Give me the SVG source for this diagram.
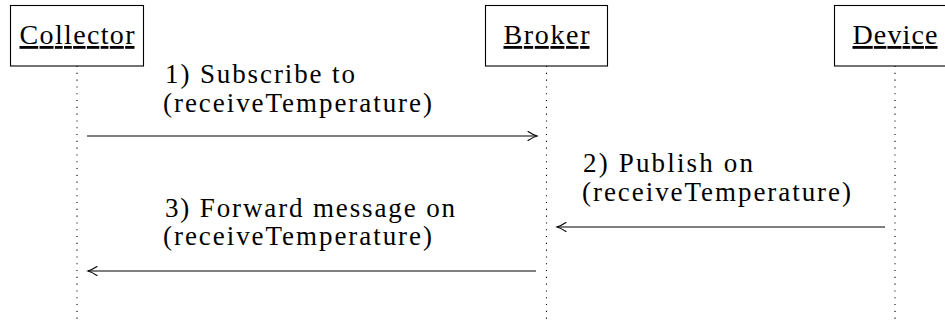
<svg xmlns="http://www.w3.org/2000/svg" width="945" height="320" viewBox="0 0 945 320">
  <style>
    .box { fill: #ffffff; stroke: #000000; stroke-width: 1.1; }
    .name { font-family: 'Liberation Serif', 'DejaVu Serif', serif; font-size: 28px; fill: #000000; text-anchor: middle; text-decoration: underline; }
    .life { stroke: #000000; stroke-width: 1.1; stroke-dasharray: 1.1 5.7; fill: none; }
    .msg { stroke: #000000; stroke-width: 1.1; fill: none; marker-end: url(#to); }
    .lbl { font-family: 'Liberation Serif', 'DejaVu Serif', serif; font-size: 27px; fill: #000000; }
  </style>
  <defs>
    <marker id="to" markerUnits="userSpaceOnUse" markerWidth="14" markerHeight="14" viewBox="-12 -7 14 14" refX="0" refY="0" orient="auto">
      <path d="M -9 -4.5 Q -3.5 -1 0 0 Q -3.5 1 -9 4.5" fill="none" stroke="#000000" stroke-width="1.1" stroke-linecap="round"/>
    </marker>
  </defs>
  <rect width="945" height="320" fill="#ffffff"/>

  <g id="lifelines">
    <line class="life" x1="77" y1="66" x2="77" y2="320"/>
    <line class="life" x1="546.5" y1="66" x2="546.5" y2="320"/>
    <line class="life" x1="895" y1="66" x2="895" y2="320"/>
  </g>

  <g id="collector">
    <rect class="box" x="10.5" y="5.5" width="133" height="60.5"/>
    <text class="name" x="77" y="44" textLength="115" lengthAdjust="spacing">Collector</text>
  </g>
  <g id="broker">
    <rect class="box" x="485.5" y="5.5" width="122" height="60.5"/>
    <text class="name" x="546.5" y="44" textLength="86" lengthAdjust="spacing">Broker</text>
  </g>
  <g id="device">
    <rect class="box" x="834.5" y="5.5" width="122" height="60.5"/>
    <text class="name" x="895" y="44" textLength="85" lengthAdjust="spacing">Device</text>
  </g>

  <g id="connectors">
    <line class="msg" x1="87" y1="136" x2="537" y2="136"/>
    <text class="lbl" x="165" y="83" textLength="190" lengthAdjust="spacing">1) Subscribe to</text>
    <text class="lbl" x="163" y="112" textLength="269" lengthAdjust="spacing">(receiveTemperature)</text>

    <line class="msg" x1="885" y1="227" x2="557" y2="227"/>
    <text class="lbl" x="583" y="172" textLength="170" lengthAdjust="spacing">2) Publish on</text>
    <text class="lbl" x="582" y="201" textLength="269" lengthAdjust="spacing">(receiveTemperature)</text>

    <line class="msg" x1="536" y1="271" x2="88" y2="271"/>
    <text class="lbl" x="165" y="217" textLength="290" lengthAdjust="spacing">3) Forward message on</text>
    <text class="lbl" x="163" y="245" textLength="269" lengthAdjust="spacing">(receiveTemperature)</text>
  </g>
</svg>
